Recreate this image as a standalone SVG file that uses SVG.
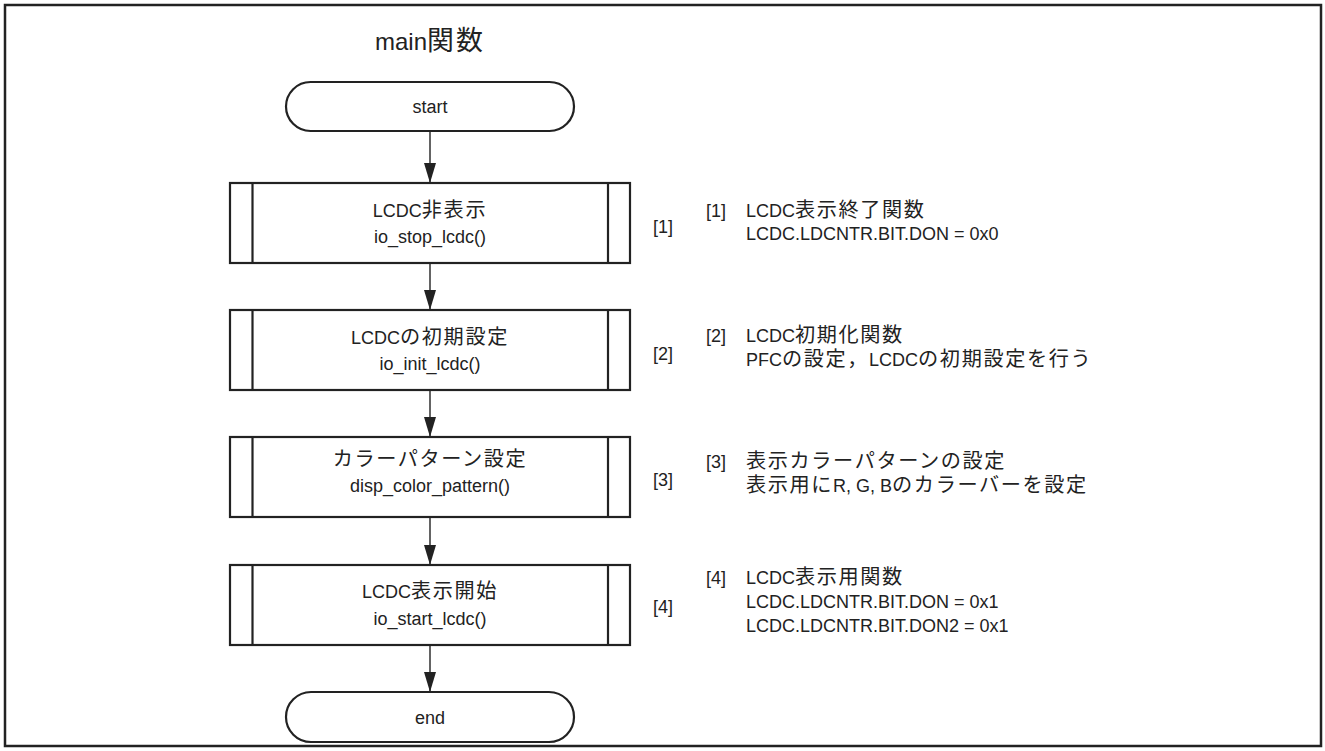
<svg xmlns="http://www.w3.org/2000/svg" width="1325" height="751" viewBox="0 0 1325 751">
  <style>
    text { font-family: "Liberation Sans", "Noto Sans CJK JP", sans-serif; fill: #222; }
    .j { font-size: 1.12em; letter-spacing: 0.08em; }
    .box { fill: #fff; stroke: #222; stroke-width: 2.2; }
    .bar { stroke: #222; stroke-width: 2.2; }
    .term { fill: #fff; stroke: #222; stroke-width: 2.2; }
    .lbl { font-size: 18px; text-anchor: middle; }
    .ref { font-size: 18px; }
    .note { font-size: 18px; }
    .wire { stroke: #222; stroke-width: 1.4; fill: none; marker-end: url(#tip); }
  </style>
  <defs>
    <marker id="tip" viewBox="0 0 20 12" refX="20" refY="6" markerWidth="20" markerHeight="12" markerUnits="userSpaceOnUse" orient="auto">
      <path d="M0,0 L20,6 L0,12 Z" fill="#222"/>
    </marker>
  </defs>

  <!-- outer frame -->
  <rect x="5" y="5" width="1316" height="741" fill="#fff" stroke="#222" stroke-width="2.5"/>

  <text x="430" y="50" font-size="24" text-anchor="middle">main<tspan class="j">関数</tspan></text>

  <!-- connectors -->
  <g id="connectors">
    <line class="wire" x1="430" y1="131" x2="430" y2="183"/>
    <line class="wire" x1="430" y1="263" x2="430" y2="310"/>
    <line class="wire" x1="430" y1="390" x2="430" y2="437"/>
    <line class="wire" x1="430" y1="517" x2="430" y2="565"/>
    <line class="wire" x1="430" y1="645" x2="430" y2="692"/>
  </g>

  <g id="start">
    <rect class="term" x="286" y="82" width="288" height="49" rx="24.5"/>
    <text class="lbl" x="430" y="113">start</text>
  </g>

  <g id="step1">
    <rect class="box" x="230" y="183" width="400" height="80"/>
    <line class="bar" x1="252.5" y1="183" x2="252.5" y2="263"/>
    <line class="bar" x1="608" y1="183" x2="608" y2="263"/>
    <text class="lbl" x="430" y="217">LCDC<tspan class="j">非表示</tspan></text>
    <text class="lbl" x="430" y="243">io_stop_lcdc()</text>
    <text class="ref" x="653" y="233">[1]</text>
  </g>

  <g id="step2">
    <rect class="box" x="230" y="310" width="400" height="80"/>
    <line class="bar" x1="252.5" y1="310" x2="252.5" y2="390"/>
    <line class="bar" x1="608" y1="310" x2="608" y2="390"/>
    <text class="lbl" x="430" y="344">LCDC<tspan class="j">の初期設定</tspan></text>
    <text class="lbl" x="430" y="370">io_init_lcdc()</text>
    <text class="ref" x="653" y="360">[2]</text>
  </g>

  <g id="step3">
    <rect class="box" x="230" y="437" width="400" height="80"/>
    <line class="bar" x1="252.5" y1="437" x2="252.5" y2="517"/>
    <line class="bar" x1="608" y1="437" x2="608" y2="517"/>
    <text class="lbl" x="430" y="466"><tspan class="j">カラーパターン設定</tspan></text>
    <text class="lbl" x="430" y="492">disp_color_pattern()</text>
    <text class="ref" x="653" y="486">[3]</text>
  </g>

  <g id="step4">
    <rect class="box" x="230" y="565" width="400" height="80"/>
    <line class="bar" x1="252.5" y1="565" x2="252.5" y2="645"/>
    <line class="bar" x1="608" y1="565" x2="608" y2="645"/>
    <text class="lbl" x="430" y="598">LCDC<tspan class="j">表示開始</tspan></text>
    <text class="lbl" x="430" y="625">io_start_lcdc()</text>
    <text class="ref" x="653" y="613">[4]</text>
  </g>

  <g id="end">
    <rect class="term" x="286" y="692" width="288" height="50" rx="25"/>
    <text class="lbl" x="430" y="724">end</text>
  </g>

  <!-- step descriptions -->
  <g id="note1" class="note">
    <text x="706" y="217">[1]</text>
    <text x="746" y="217">LCDC<tspan class="j">表示終了関数</tspan></text>
    <text x="746" y="240">LCDC.LDCNTR.BIT.DON = 0x0</text>
  </g>
  <g id="note2" class="note">
    <text x="706" y="342">[2]</text>
    <text x="746" y="342">LCDC<tspan class="j">初期化関数</tspan></text>
    <text x="746" y="366">PFC<tspan class="j">の設定，</tspan>LCDC<tspan class="j">の初期設定を行う</tspan></text>
  </g>
  <g id="note3" class="note">
    <text x="706" y="468">[3]</text>
    <text x="746" y="468"><tspan class="j">表示カラーパターンの設定</tspan></text>
    <text x="746" y="492"><tspan class="j">表示用に</tspan>R, G, B<tspan class="j">のカラーバーを設定</tspan></text>
  </g>
  <g id="note4" class="note">
    <text x="706" y="584">[4]</text>
    <text x="746" y="584">LCDC<tspan class="j">表示用関数</tspan></text>
    <text x="746" y="608">LCDC.LDCNTR.BIT.DON = 0x1</text>
    <text x="746" y="632">LCDC.LDCNTR.BIT.DON2 = 0x1</text>
  </g>
</svg>
